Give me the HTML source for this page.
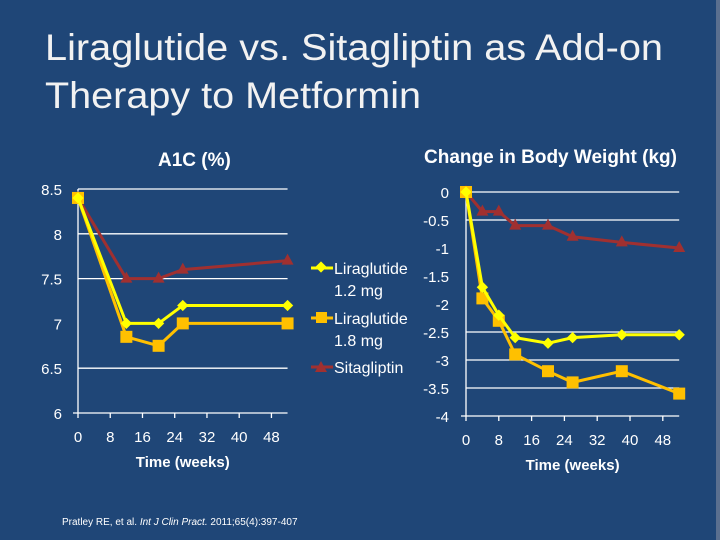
<!DOCTYPE html>
<html><head><meta charset="utf-8"><style>
body{margin:0;width:720px;height:540px;background:#1f4677;overflow:hidden;font-family:"Liberation Sans",sans-serif}
svg{position:absolute;left:0;top:0}
</style></head><body>
<svg width="720" height="540">
<rect x="0" y="0" width="720" height="540" fill="#1f4677"/>
<rect x="716" y="0" width="4" height="540" fill="#5a6f8f"/>
<text x="45" y="60" font-size="37" fill="#f2f2f2" textLength="618" lengthAdjust="spacingAndGlyphs">Liraglutide vs. Sitagliptin as Add-on</text>
<text x="45" y="108" font-size="37" fill="#f2f2f2" textLength="376" lengthAdjust="spacingAndGlyphs">Therapy to Metformin</text>
<text x="158" y="166" font-size="19" font-weight="bold" fill="#fff">A1C (%)</text>
<text x="424" y="163" font-size="19" font-weight="bold" fill="#fff">Change in Body Weight (kg)</text>
<g id="left"></g>
<g id="right"></g>
<g font-size="16" fill="#fff">
<line x1="311" y1="268" x2="333" y2="268" stroke="#ffff00" stroke-width="3"/><rect x="317" y="263" width="8" height="8" fill="#ffff00" transform="rotate(45 321 267)"/>
<text x="334" y="274">Liraglutide</text><text x="334" y="296">1.2 mg</text>
<line x1="311" y1="318" x2="333" y2="318" stroke="#ffc000" stroke-width="3"/><rect x="316" y="312" width="11" height="11" fill="#ffc000"/>
<text x="334" y="324">Liraglutide</text><text x="334" y="346">1.8 mg</text>
<line x1="311" y1="367" x2="333" y2="367" stroke="#a03030" stroke-width="3"/><polygon points="321,361 327,372 315,372" fill="#a03030"/>
<text x="334" y="373">Sitagliptin</text>
</g>
<text x="62" y="525" font-size="10" fill="#fff">Pratley RE, et al. <tspan font-style="italic">Int J Clin Pract.</tspan> 2011;65(4):397-407</text>
</svg>
<script>
const ns="http://www.w3.org/2000/svg";
const xTicks=[0,8,16,24,32,40,48];
const a1cWeeks=[0,12,20,26,52];
const a1cLira12=[8.4,7.0,7.0,7.2,7.2];
const a1cLira18=[8.4,6.85,6.75,7.0,7.0];
const a1cSita=[8.4,7.5,7.5,7.6,7.7];
const a1cYTicks=[8.5,8,7.5,7,6.5,6];
const a1cGrid=[8.5,8,7.5,6.5];
const wtWeeks=[0,4,8,12,20,26,38,52];
const wtLira12=[0,-1.7,-2.2,-2.6,-2.7,-2.6,-2.55,-2.55];
const wtLira18=[0,-1.9,-2.3,-2.9,-3.2,-3.4,-3.2,-3.6];
const wtSita=[0,-0.35,-0.35,-0.6,-0.6,-0.8,-0.9,-1.0];
const wtYTicks=[0,-0.5,-1,-1.5,-2,-2.5,-3,-3.5,-4];
const wtGrid=[0,-0.5,-2.5,-3,-3.5];
function mk(p,t,a){const e=document.createElementNS(ns,t);for(const k in a)e.setAttribute(k,a[k]);p.appendChild(e);return e;}
function chart(g,cfg){
 const X=w=>cfg.x0+w*cfg.xs, Y=v=>cfg.y0+(cfg.ymax-v)*cfg.ys;
 cfg.grid.forEach(v=>{const l=mk(g,'line',{x1:X(0),x2:X(52),y1:Y(v),y2:Y(v),stroke:'#fff','stroke-width':1.3});
 
 });
 mk(g,'line',{x1:X(0),x2:X(0),y1:Y(cfg.ymax),y2:Y(cfg.ymin),stroke:'#fff','stroke-width':1.3});
 mk(g,'line',{x1:X(0)-5,x2:X(52),y1:Y(cfg.ymin),y2:Y(cfg.ymin),stroke:'#fff','stroke-width':1.3});
 cfg.yt.forEach(v=>{const t=mk(g,'text',{x:cfg.ylx,y:Y(v)+6,'text-anchor':'end','font-size':15,fill:'#fff'});t.textContent=String(v);
 
 });
 xTicks.forEach(w=>{mk(g,'line',{x1:X(w),x2:X(w),y1:Y(cfg.ymin),y2:Y(cfg.ymin)+5,stroke:'#fff','stroke-width':1.3});
 const t=mk(g,'text',{x:X(w),y:Y(cfg.ymin)+29,'text-anchor':'middle','font-size':15,fill:'#fff'});t.textContent=w;
 
 });
 const xt=mk(g,'text',{x:(X(0)+X(52))/2,y:Y(cfg.ymin)+54,'text-anchor':'middle','font-size':15,'font-weight':'bold',fill:'#fff'});xt.textContent='Time (weeks)';
 
 
 const series=[[cfg.sita,'#a03030','tri'],[cfg.l18,'#ffc000','sq'],[cfg.l12,'#ffff00','dia']];
 series.forEach(([vals,c,m])=>{
  const pts=vals.map((v,i)=>[X(cfg.weeks[i]),Y(v)]);
  const pl=mk(g,'polyline',{points:pts.map(p=>p.join(',')).join(' '),fill:'none',stroke:c,'stroke-width':3});
  
  
  pts.forEach(([x,y])=>{let e;
   if(m=='tri')e=mk(g,'polygon',{points:`${x},${y-7} ${x+6},${y+4} ${x-6},${y+4}`,fill:c});
   else if(m=='sq')e=mk(g,'rect',{x:x-6,y:y-6,width:12,height:12,fill:c});
   else e=mk(g,'rect',{x:x-4,y:y-4,width:8,height:8,fill:c,transform:`rotate(45 ${x} ${y})`});
   
   });
 });
}
chart(document.getElementById('left'),{x0:78,xs:4.03,y0:189,ymax:8.5,ymin:6,ys:89.6,ylx:62,grid:a1cGrid,yt:a1cYTicks,weeks:a1cWeeks,l12:a1cLira12,l18:a1cLira18,sita:a1cSita});
chart(document.getElementById('right'),{x0:466,xs:4.1,y0:192,ymax:0,ymin:-4,ys:56,ylx:449,grid:wtGrid,yt:wtYTicks,weeks:wtWeeks,l12:wtLira12,l18:wtLira18,sita:wtSita});
</script>
</body></html>
